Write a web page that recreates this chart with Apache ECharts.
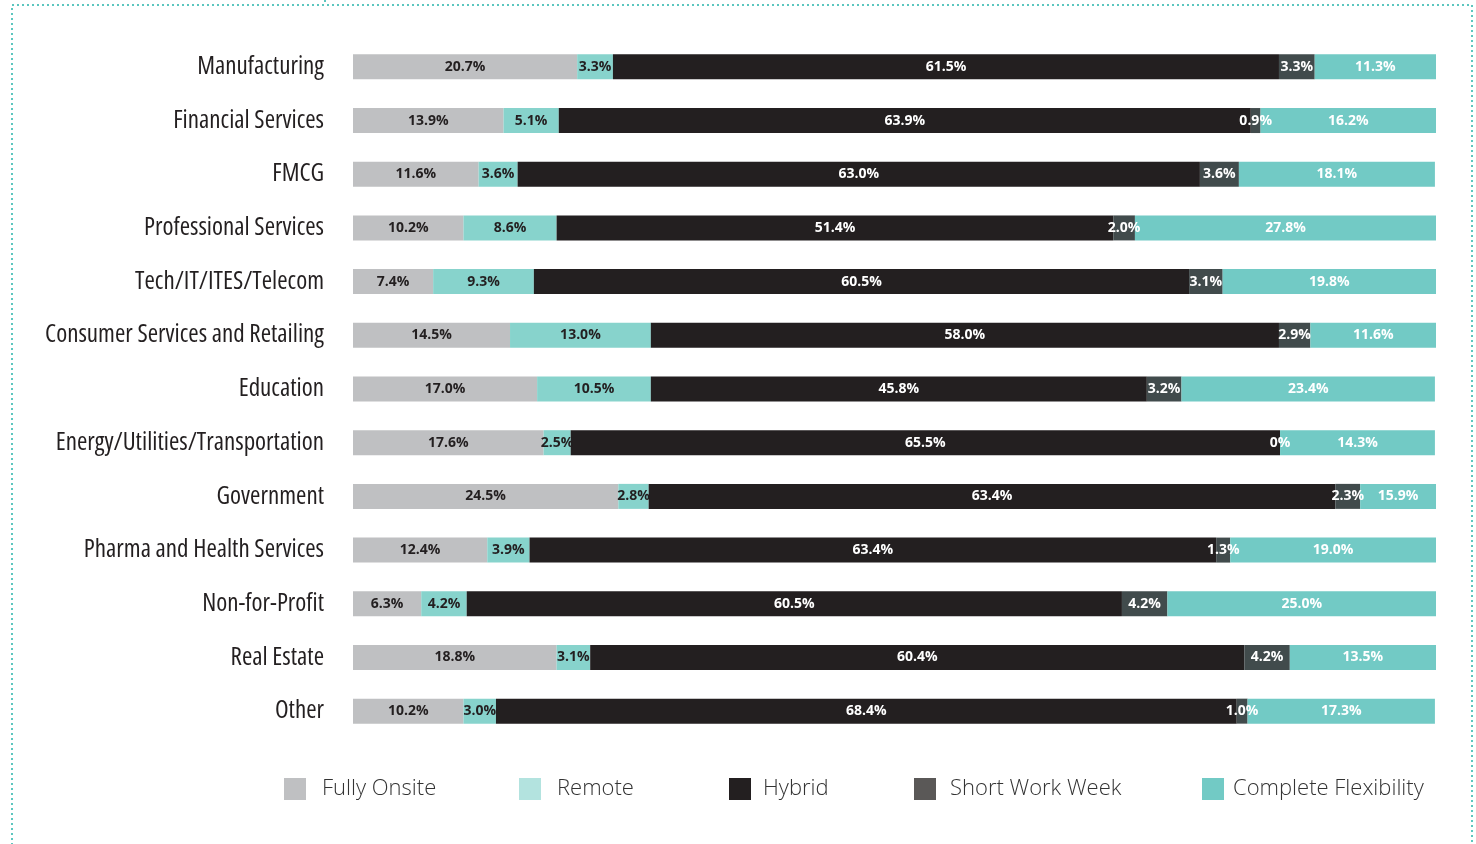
<!DOCTYPE html>
<html>
<head>
<meta charset="utf-8">
<script src="https://cdn.jsdelivr.net/npm/echarts@6/dist/echarts.min.js"></script>
<style>
  html, body { margin: 0; padding: 0; background: #ffffff; }
  #chart { width: 1476px; height: 844px; }
</style>
</head>
<body>
<div id="chart"></div>
<script>
// Work arrangement share by industry (percent of respondents)
const industries = [
  'Manufacturing', 'Financial Services', 'FMCG', 'Professional Services',
  'Tech/IT/ITES/Telecom', 'Consumer Services and Retailing', 'Education',
  'Energy/Utilities/Transportation', 'Government', 'Pharma and Health Services',
  'Non-for-Profit', 'Real Estate', 'Other'
];
const fullyOnsite = [20.7, 13.9, 11.6, 10.2, 7.4, 14.5, 17.0, 17.6, 24.5, 12.4, 6.3, 18.8, 10.2];
const remote      = [3.3, 5.1, 3.6, 8.6, 9.3, 13.0, 10.5, 2.5, 2.8, 3.9, 4.2, 3.1, 3.0];
const hybrid      = [61.5, 63.9, 63.0, 51.4, 60.5, 58.0, 45.8, 65.5, 63.4, 63.4, 60.5, 60.4, 68.4];
const shortWeek   = [3.3, 0.9, 3.6, 2.0, 3.1, 2.9, 3.2, 0, 2.3, 1.3, 4.2, 4.2, 1.0];
const flexibility = [11.3, 16.2, 18.1, 27.8, 19.8, 11.6, 23.4, 14.3, 15.9, 19.0, 25.0, 13.5, 17.3];

const seriesDefs = [
  { name: 'Fully Onsite', data: fullyOnsite, color: '#bfc0c2', legendColor: '#bfc0c2', text: '#231f20', legendLeft: 284, textGap: 11 },
  { name: 'Remote', data: remote, color: '#87d3cc', legendColor: '#b3e3df', text: '#231f20', legendLeft: 519, textGap: 11 },
  { name: 'Hybrid', data: hybrid, color: '#231f20', legendColor: '#231f20', text: '#ffffff', legendLeft: 729, textGap: 7 },
  { name: 'Short Work Week', data: shortWeek, color: '#414b4c', legendColor: '#5a5857', text: '#ffffff', legendLeft: 914, textGap: 9 },
  { name: 'Complete Flexibility', data: flexibility, color: '#72cac5', legendColor: '#72cac5', text: '#ffffff', legendLeft: 1202, textGap: 4 }
];

const fmt = v => (v === 0 ? '0%' : v.toFixed(1) + '%');

const chart = echarts.init(document.getElementById('chart'), null, { renderer: 'canvas' });

chart.setOption({
  animation: false,
  backgroundColor: '#ffffff',
  grid: { left: 353, right: 40, top: 40, bottom: 106, containLabel: false, outerBoundsMode: 'none' },
  xAxis: {
    type: 'value', min: 0, max: 100, show: false
  },
  yAxis: {
    type: 'category',
    inverse: true,
    data: industries,
    axisLine: { show: false },
    axisTick: { show: false },
    splitLine: { show: false },
    axisLabel: {
      margin: 29,
      color: '#231f20',
      fontFamily: '"Open Sans", sans-serif',
      // condensed width of the variable Open Sans face
      fontWeight: '500 condensed',
      fontSize: 25,
      padding: [5, 0, 0, 0]
    }
  },
  legend: seriesDefs.map(s => ({
    left: s.legendLeft,
    top: 778,
    padding: 0,
    itemWidth: 22,
    itemHeight: 22,
    icon: 'rect',
    selectedMode: false,
    textStyle: {
      color: '#333333',
      fontFamily: '"Open Sans", sans-serif',
      fontWeight: 300,
      fontSize: 22,
      padding: [3, 0, 0, s.textGap]
    },
    data: [{ name: s.name, itemStyle: { color: s.legendColor } }]
  })),
  graphic: [
    {
      type: 'rect',
      shape: { x: 12, y: 5, width: 1460, height: 900 },
      style: { fill: 'none', stroke: '#5cc6bf', lineWidth: 2, lineDash: [2, 3] },
      silent: true
    },
    {
      type: 'line',
      shape: { x1: 325, y1: 0, x2: 325, y2: 5 },
      style: { stroke: '#5cc6bf', lineWidth: 2, lineDash: [2, 3] },
      silent: true
    }
  ],
  series: seriesDefs.map(s => ({
    name: s.name,
    type: 'bar',
    stack: 'total',
    barWidth: 25,
    clip: true,
    data: s.data,
    itemStyle: { color: s.color },
    label: {
      show: true,
      position: 'inside',
      formatter: p => fmt(p.value),
      color: s.text,
      fontFamily: '"Open Sans", sans-serif',
      fontWeight: 'bold',
      fontSize: 14
    },
    emphasis: { disabled: true }
  }))
});
</script>
</body>
</html>
